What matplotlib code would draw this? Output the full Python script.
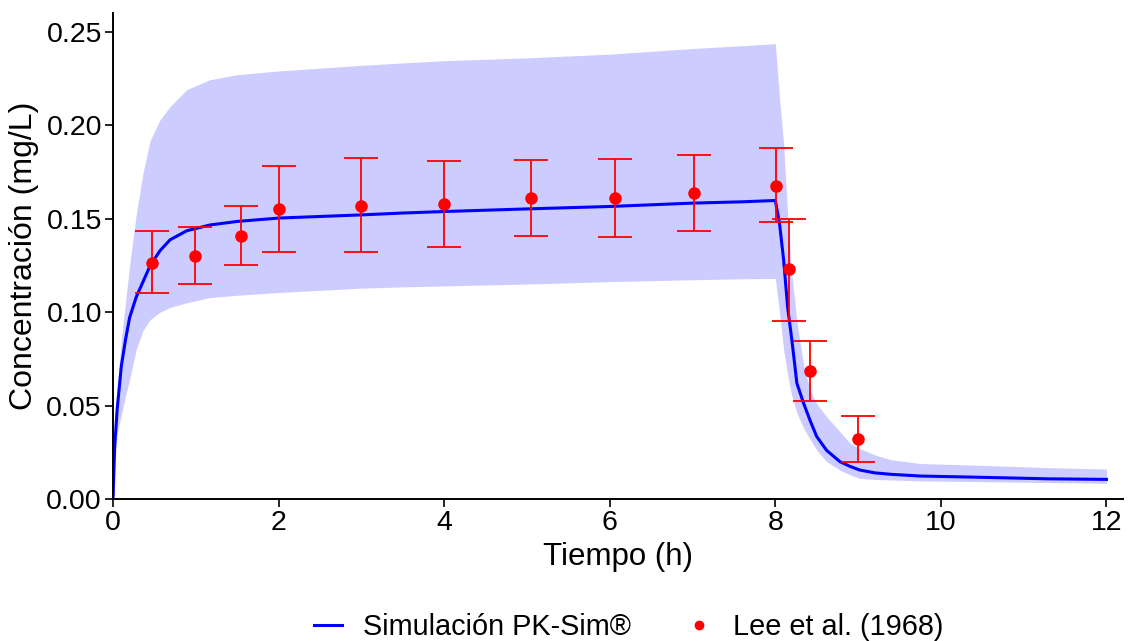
import matplotlib
matplotlib.use("Agg")
from matplotlib import pyplot as plt
from matplotlib.lines import Line2D

plt.rcParams['font.family'] = ['Liberation Sans', 'DejaVu Sans']

# simulation (PK-Sim) mean and range
sim_t = [0, 0.02, 0.05, 0.1, 0.15, 0.2, 0.28, 0.36, 0.45, 0.57, 0.69, 0.89, 1.17, 1.5,
         2.0, 3.0, 3.5, 4.0, 5.0, 6.0, 7.0, 7.6, 8.0, 8.05, 8.1, 8.15, 8.2, 8.26, 8.34,
         8.42, 8.5, 8.62, 8.78, 8.9, 9.02, 9.2, 9.4, 9.75, 10.5, 11.3, 12.0]
sim_mean = [0, 0.028, 0.048, 0.071, 0.085, 0.097, 0.108, 0.116, 0.125, 0.133, 0.1387,
            0.1435, 0.1466, 0.1485, 0.1503, 0.152, 0.153, 0.1538, 0.1552, 0.1565, 0.1583,
            0.159, 0.1597, 0.1476, 0.128, 0.102, 0.085, 0.062, 0.0514, 0.042, 0.0334,
            0.026, 0.020, 0.0175, 0.0155, 0.014, 0.0132, 0.0123, 0.0116, 0.0108, 0.0105]
sim_low = [0, 0.02, 0.035, 0.045, 0.055, 0.064, 0.080, 0.090, 0.096, 0.100, 0.1025,
           0.105, 0.1078, 0.109, 0.1105, 0.1128, 0.1135, 0.114, 0.115, 0.1163, 0.1173,
           0.1178, 0.118, 0.100, 0.080, 0.066, 0.055, 0.046, 0.038, 0.032, 0.0262,
           0.020, 0.0155, 0.013, 0.011, 0.0105, 0.0102, 0.0097, 0.0093, 0.0088, 0.0084]
sim_high = [0, 0.04, 0.058, 0.085, 0.105, 0.125, 0.152, 0.174, 0.192, 0.203, 0.210,
            0.219, 0.2243, 0.227, 0.229, 0.232, 0.2333, 0.2345, 0.236, 0.238, 0.241,
            0.2425, 0.2436, 0.215, 0.19, 0.151, 0.12, 0.095, 0.072, 0.058, 0.051,
            0.044, 0.036, 0.030, 0.027, 0.0236, 0.021, 0.019, 0.018, 0.0168, 0.016]

# observed data, Lee et al. (1968)
obs_t = [0.47, 0.99, 1.54, 2.0, 3.0, 4.0, 5.05, 6.06, 7.02, 8.01, 8.16, 8.42, 9.0]
obs_c = [0.126, 0.130, 0.1408, 0.1554, 0.157, 0.158, 0.1611, 0.1613, 0.1636, 0.1677,
         0.1231, 0.0687, 0.0321]
obs_lo = [0.110, 0.115, 0.1254, 0.132, 0.132, 0.135, 0.1408, 0.140, 0.1435, 0.148,
          0.0955, 0.0526, 0.020]
obs_hi = [0.1435, 0.1454, 0.157, 0.178, 0.1822, 0.1806, 0.1815, 0.182, 0.184, 0.188,
          0.150, 0.0848, 0.0444]

err_lo = [c - l for c, l in zip(obs_c, obs_lo)]
err_hi = [h - c for c, h in zip(obs_c, obs_hi)]

fig = plt.figure(figsize=(11.28, 6.41), dpi=100)
ax = fig.add_axes([0.1002, 0.2215, 0.8954, 0.7582])

ax.fill_between(sim_t, sim_low, sim_high, color='#ccccff', linewidth=0)
ax.plot(sim_t, sim_mean, color='#0000ff', linewidth=2.2)
ax.errorbar(obs_t, obs_c, yerr=[err_lo, err_hi], fmt='o', color='#ff0000',
            markersize=8, elinewidth=1.3, capsize=12, capthick=1.3)

ax.set_xlim(0, 12.2)
ax.set_ylim(0, 0.26)
ax.set_xticks([0, 2, 4, 6, 8, 10, 12])
ax.set_yticks([0.0, 0.05, 0.10, 0.15, 0.20, 0.25])
ax.set_yticklabels(['0.00', '0.05', '0.10', '0.15', '0.20', '0.25'])

for side in ['top', 'right']:
    ax.spines[side].set_visible(False)
for side in ['left', 'bottom']:
    ax.spines[side].set_linewidth(1.4)
ax.tick_params(labelsize=20.5, length=6, width=1.2, colors='black', pad=2)

ax.set_xlabel('Tiempo (h)', fontsize=22.5, labelpad=4)
ax.set_ylabel('Concentración (mg/L)', fontsize=23, labelpad=5)

handles = [Line2D([], [], color='#0000ff', linewidth=2.2),
           Line2D([], [], color='#ff0000', marker='o', linestyle='none', markersize=6)]
fig.legend(handles, ['Simulación PK-Sim®', 'Lee et al. (1968)'], loc='center',
           bbox_to_anchor=(0.5576, 0.022), ncol=2, frameon=False, fontsize=20.8,
           handlelength=0.97, columnspacing=1.85, handletextpad=0.72)

plt.savefig('out.png', dpi=100)
